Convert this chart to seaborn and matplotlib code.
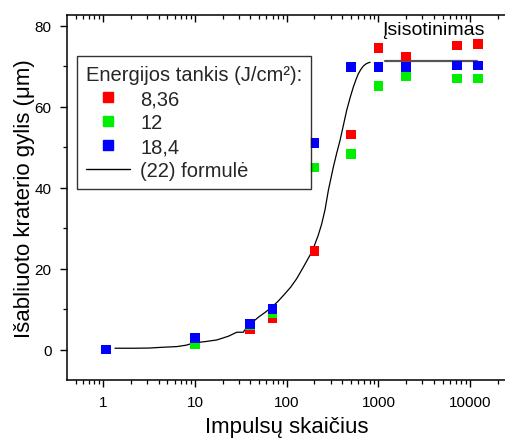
import matplotlib
matplotlib.use("Agg")
import matplotlib.pyplot as plt
from matplotlib.ticker import LogLocator, FixedLocator, NullFormatter, FixedFormatter
from matplotlib.lines import Line2D
import numpy as np
import pandas as pd
import seaborn as sns

# Measured crater depth per pulse count, one list per fluence
pulses = [1.07, 10, 40, 70, 200, 500, 1000, 2000, 7150, 12200]
depth_836 = [0.0, 2.0, 5.0, 7.8, 24.4, 53.2, 74.5, 72.4, 75.2, 75.6]
depth_12 = [0.0, 1.3, 6.0, 9.0, 45.0, 48.3, 65.2, 67.7, 67.0, 67.0]
depth_184 = [0.0, 2.9, 6.4, 10.1, 51.1, 69.8, 69.8, 69.8, 70.2, 70.2]
fluence_labels = ["8,36", "12", "18,4"]
fluence_colors = ["#ff0000", "#00ee00", "#0000ff"]

# Model curve, formula (22)
model_n = [1.34, 2.2, 3.2, 4.5, 6.3, 8.0, 9.6, 13, 17.3, 23, 28.5, 33.6, 36, 39.6,
           44, 49, 58, 68.5, 80, 92, 110, 128, 150, 179, 200, 220, 240, 261, 285,
           322, 350, 381, 415, 451, 490, 532, 570, 604, 645, 685, 730, 777, 811]
model_d = [0.35, 0.35, 0.4, 0.6, 0.75, 1.1, 1.65, 2.0, 2.4, 3.3, 4.3, 4.3, 5.3, 6.4,
           7.1, 8.0, 9.2, 10.5, 11.9, 13.4, 15.4, 17.5, 20.2, 23.3, 25.7, 28.2, 31.0,
           34.5, 39.5, 45.1, 48.5, 51.7, 55.5, 59.2, 62.2, 64.9, 66.8, 68.2, 69.3,
           70.1, 70.6, 70.9, 71.0]
# Saturation level
plateau_n = [1170, 12000]
plateau_d = [71.3, 71.3]

x_ticks = [1, 10, 100, 1000, 10000]
x_tick_labels = ["1", "10", "100", "1000", "10000"]
y_ticks = [0, 20, 40, 60, 80]

sns.set_theme(style="ticks")
plt.rcParams["font.family"] = ["Liberation Sans", "DejaVu Sans"]

fig = plt.figure(figsize=(5.05, 4.39), dpi=100)
ax = fig.add_axes([67 / 505, 1 - 381 / 439, 440 / 505, 365 / 439])

rows = []
for lab, vals in zip(fluence_labels, [depth_836, depth_12, depth_184]):
    for n, d in zip(pulses, vals):
        rows.append({"n": n, "d": d, "fluence": lab})
df = pd.DataFrame(rows)

sns.lineplot(x=model_n, y=model_d, ax=ax, color="black", lw=0.9, zorder=2)
sns.lineplot(x=plateau_n, y=plateau_d, ax=ax, color="#555555", lw=1.6, zorder=2)
sns.scatterplot(data=df, x="n", y="d", hue="fluence", hue_order=fluence_labels,
                palette=fluence_colors, marker="s", s=48, linewidth=0,
                ax=ax, legend=False, zorder=3)

ax.set_xscale("log")
ax.set_xlim(0.402, 25200)
ax.set_ylim(-7.5, 82.7)

ax.xaxis.set_major_locator(FixedLocator(x_ticks))
ax.xaxis.set_major_formatter(FixedFormatter(x_tick_labels))
ax.xaxis.set_minor_locator(LogLocator(base=10, subs=np.arange(2, 10)))
ax.xaxis.set_minor_formatter(NullFormatter())
ax.set_yticks(y_ticks)
ax.yaxis.set_minor_locator(FixedLocator([10, 30, 50, 70]))

for s in ["left", "bottom", "top"]:
    ax.spines[s].set_linewidth(1.1)
    ax.spines[s].set_color("black")
ax.spines["right"].set_visible(False)

ax.tick_params(axis="both", which="major", direction="out", length=5, width=1.0,
               labelsize=11, colors="black", pad=6)
ax.tick_params(axis="both", which="minor", direction="out", length=3, width=0.9,
               colors="black")
ax.tick_params(axis="x", which="both", top=True)
# top axis ticks point inward
for t in ax.xaxis.get_major_ticks() + ax.xaxis.get_minor_ticks():
    t.tick2line.set_marker(matplotlib.lines.TICKDOWN)

ax.set_xlabel("Impulsų skaičius", fontsize=16, labelpad=5, color="black")
ax.set_ylabel("Išabliuoto kraterio gylis (μm)", fontsize=16, labelpad=0, color="black")

ax.text(1094, 79.0, "Įsisotinimas", fontsize=14, color="black", ha="left", va="center")

handles = [Line2D([], [], marker="s", color=c, linestyle="none", markersize=6.5)
           for c in fluence_colors]
handles.append(Line2D([], [], color="black", lw=1.0))
labels = fluence_labels + ["(22) formulė"]
leg = ax.legend(handles, labels, title="Energijos tankis (J/cm²):", loc="upper left",
                bbox_to_anchor=(10 / 440, (381 - 57) / 365), borderaxespad=0,
                fontsize=14.5, title_fontsize=14.5, handlelength=2.2, handletextpad=0.5,
                labelspacing=0.25, frameon=True, fancybox=False, alignment="left",
                borderpad=0.45)
leg.get_frame().set_edgecolor("black")
leg.get_frame().set_linewidth(1.0)

fig.savefig("out.png", dpi=100)
